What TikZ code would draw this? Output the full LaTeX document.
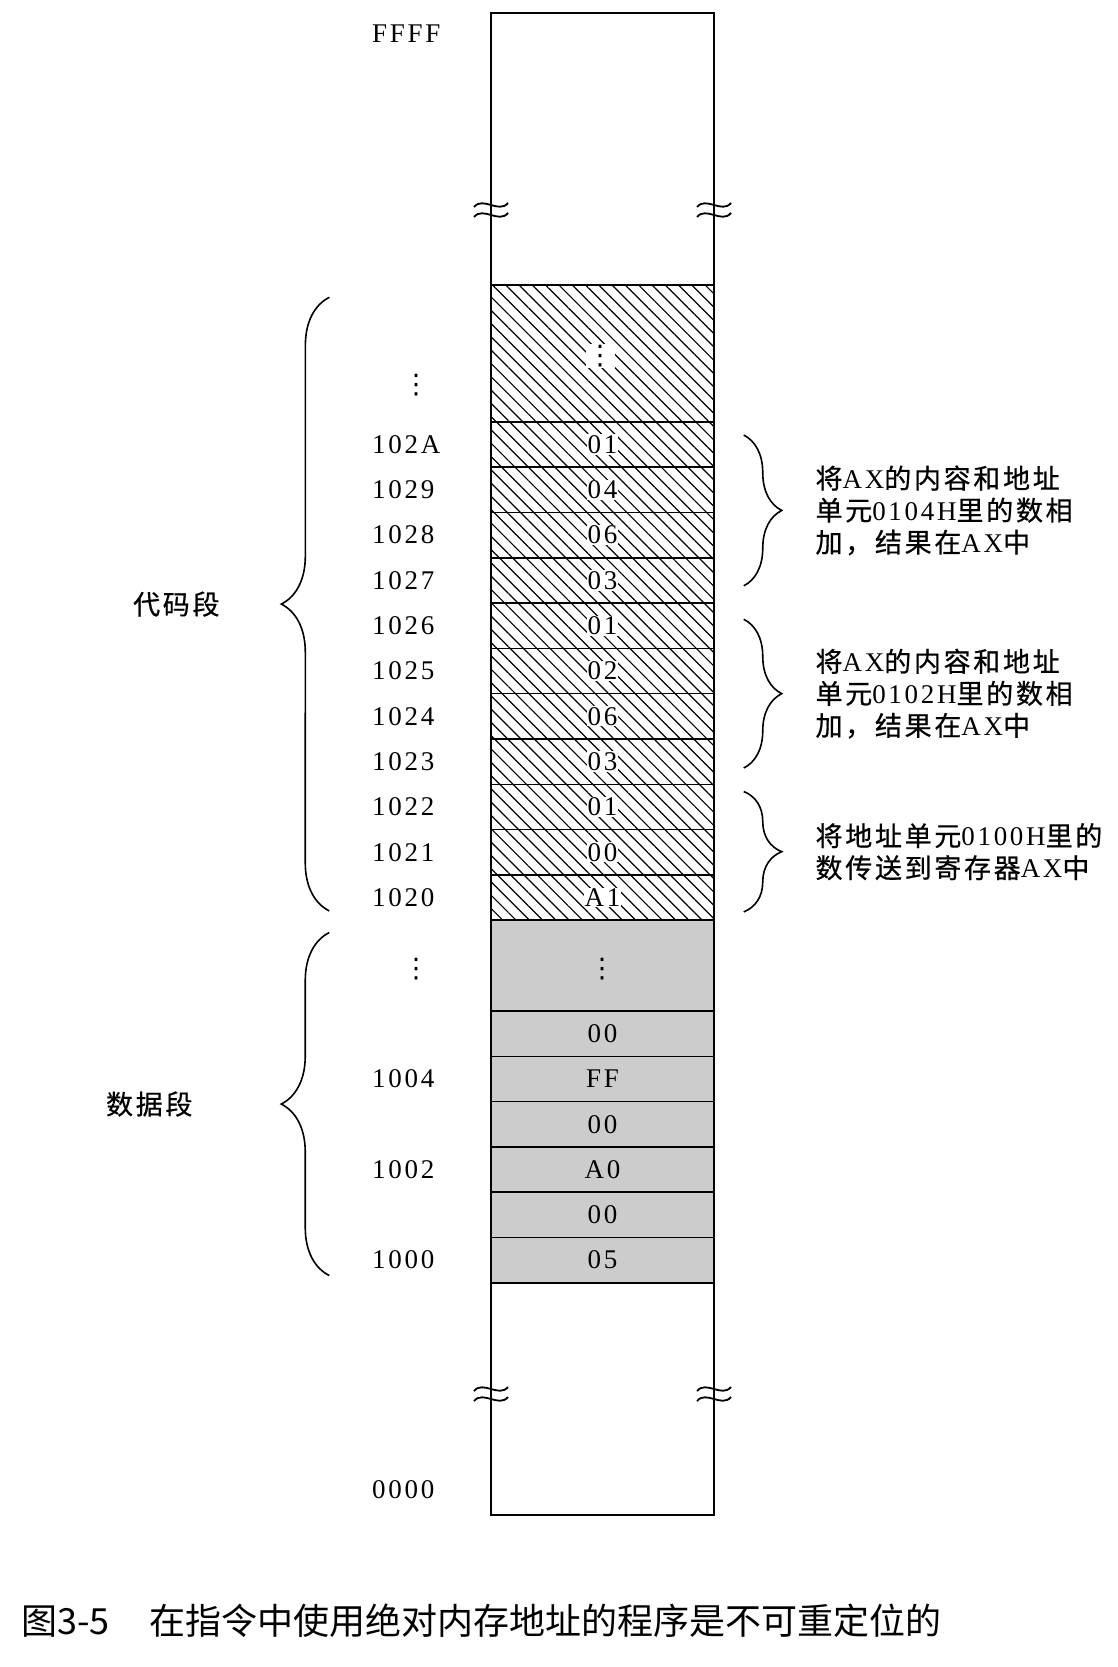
\documentclass[tikz,border=0pt]{standalone}
\usepackage{fontspec}
\setmainfont{Liberation Serif}[LetterSpace=10]
\newfontfamily\cjk{Noto Sans CJK SC}[LetterSpace=10, FakeBold=0.6]
\newfontfamily\capfont{Noto Sans CJK SC}
\newfontfamily\dotfont{DejaVu Sans}
\usetikzlibrary{patterns.meta,decorations.pathreplacing,calc}
\newcommand{\zh}[1]{{\cjk #1}}
\newcommand{\vdotsym}{{\dotfont ⋮}}

\begin{document}
\begin{tikzpicture}[x=1pt,y=-1pt,
    cell/.style={draw, line width=1.5pt, minimum width=223pt, minimum height=45.3pt, inner sep=0pt},
    hcell/.style={cell, pattern={Lines[angle=-45,distance=9.4pt,line width=1.2pt]}},
    gcell/.style={cell, fill=black!20},
    val/.style={inner sep=1pt, font=\fontsize{27}{30}\selectfont},
    addr/.style={anchor=west, inner sep=0pt, font=\fontsize{27}{30}\selectfont},
    curly/.style={decorate, line width=1.6pt, decoration={brace, amplitude=#1}},
    note/.style={align=left, inner sep=0pt, font=\fontsize{27}{32}\selectfont},
    cutmark/.style={line width=1.8pt}]
  \useasboundingbox (0,0) rectangle (1117,1667);

  % code segment, hatched cells
  \node[hcell, minimum height=137pt] (hblk) at (602.5,353.4) {};
  \node[val, fill=white] (hdots) at (600,356) {\vdotsym};
  \foreach \ad/\v [count=\i from 0] in {102A/01,1029/04,1028/06,1027/03,1026/01,1025/02,1024/06,1023/03,1022/01,1021/00,1020/A1} {
    \node[hcell] (m\ad) at (602.5,{444.5+45.3*\i}) {};
    \node[val, fill=white] (v\ad) at (m\ad) {\v};
    \node[addr] (a\ad) at (372,{444.5+45.3*\i}) {\ad};
  }

  % data segment, grey cells
  \node[gcell, minimum height=90.6pt] (gblk) at (602.5,965.6) {};
  \node[val] (gdots) at (602,969) {\vdotsym};
  \foreach \ad/\v [count=\i from 0] in {1005/00,1004/FF,1003/00,1002/A0,1001/00,1000/05} {
    \node[gcell] (m\ad) at (602.5,{1033.6+45.3*\i}) {};
    \node[val] (v\ad) at (m\ad) {\v};
  }
  \foreach \ad/\i in {1004/1,1002/3,1000/5}
    \node[addr] (a\ad) at (372,{1033.6+45.3*\i}) {\ad};

  % memory column and break marks
  \draw[line width=2pt] (491,13) rectangle (714,1515);
  \foreach \y in {210,1394}
    \foreach \x in {491,714}
      \foreach \d in {-5,5}
        \draw[cutmark] (\x-17,\y+\d+2) .. controls (\x-8,\y+\d-9) and (\x+8,\y+\d+9) .. (\x+17,\y+\d-2);

  % addresses and dots on the left
  \node[addr] (aFFFF) at (372,34) {FFFF};
  \node[addr] (a0000) at (372,1490) {0000};
  \node[val] (ldots1) at (416,385) {\vdotsym};
  \node[val] (ldots2) at (416,969) {\vdotsym};

  % braces on the left
  \draw[curly=48] ([xshift=-161pt,yshift=10pt]m1020.south west) -- ([xshift=-161pt,yshift=-13pt]hblk.north west)
    node[midway, anchor=east, xshift=-109pt, note] (code) {\zh{代码段}};
  \draw[curly=48] ([xshift=-161pt,yshift=8pt]m1000.south west) -- ([xshift=-161pt,yshift=-13pt]gblk.north west)
    node[midway, anchor=east, xshift=-136pt, note] (data) {\zh{数据段}};

  % braces on the right
  \draw[curly=38] ([xshift=29pt,yshift=-14pt]m102A.north east) -- ([xshift=29pt,yshift=18pt]m1027.south east)
    node[midway, anchor=west, xshift=71pt, note] (ins1) {\zh{将}AX\zh{的内容和地址}\\\zh{单元}0104H\zh{里的数相}\\\zh{加，结果在}AX\zh{中}};
  \draw[curly=38] ([xshift=29pt,yshift=-17pt]m1026.north east) -- ([xshift=29pt,yshift=17pt]m1023.south east)
    node[midway, anchor=west, xshift=71pt, note] (ins2) {\zh{将}AX\zh{的内容和地址}\\\zh{单元}0102H\zh{里的数相}\\\zh{加，结果在}AX\zh{中}};
  \draw[curly=38] ([xshift=29pt,yshift=-8pt]m1022.north east) -- ([xshift=29pt,yshift=9pt]m1020.south east)
    node[midway, anchor=west, xshift=71pt, note] (ins3) {\zh{将地址单元}0100H\zh{里的}\\\zh{数传送到寄存器}AX\zh{中}};

  % caption
  \node[anchor=west, inner sep=0pt, font=\capfont\fontsize{36}{40}\selectfont] (cap) at (21,1621)
    {图3-5\hspace{1.1em}在指令中使用绝对内存地址的程序是不可重定位的};
\end{tikzpicture}
\end{document}
